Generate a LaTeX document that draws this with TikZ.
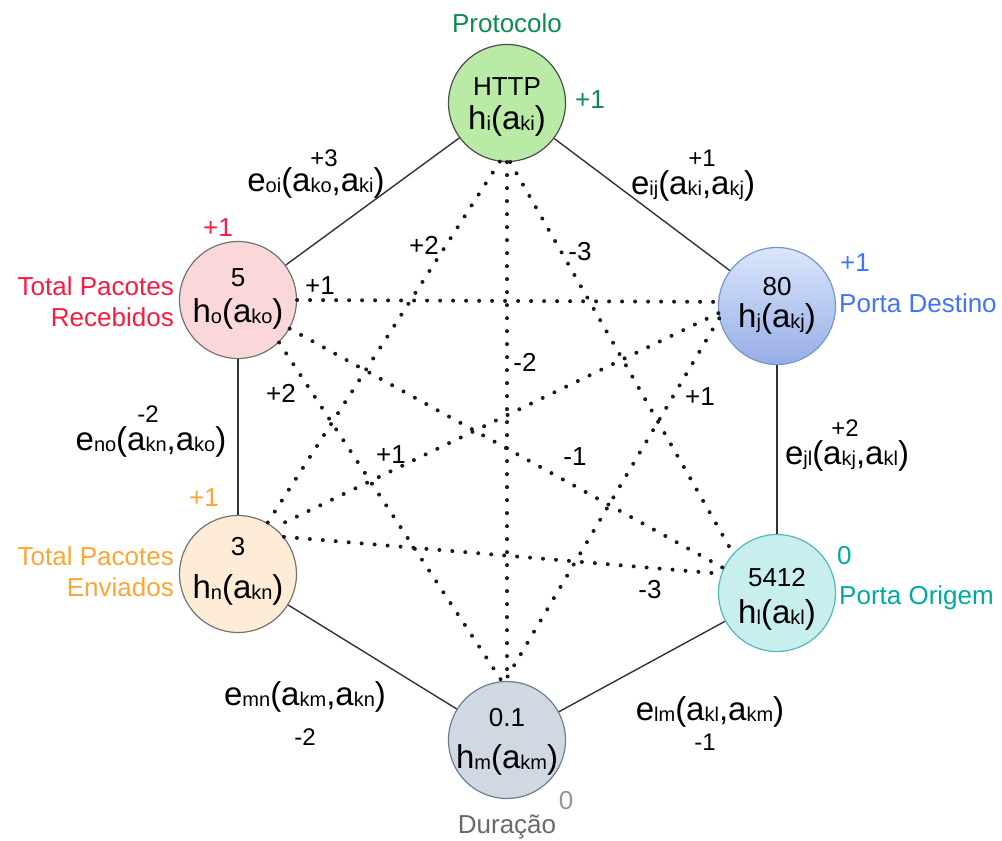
\documentclass[tikz,border=0pt]{standalone}
\usepackage{fontspec}
\setmainfont{Liberation Sans}
\definecolor{tgreen}{RGB}{10,140,80}
\definecolor{tred}{RGB}{255,25,60}
\definecolor{tblue}{RGB}{65,115,255}
\definecolor{torange}{RGB}{255,165,50}
\definecolor{tteal}{RGB}{0,170,160}
\definecolor{tgray}{RGB}{105,105,105}
\definecolor{tlgray}{RGB}{150,150,150}
\definecolor{fgreen}{RGB}{185,235,166}
\definecolor{fpink}{RGB}{250,216,218}
\definecolor{fblueT}{RGB}{218,230,251}
\definecolor{fblueB}{RGB}{150,174,230}
\definecolor{forange}{RGB}{255,236,214}
\definecolor{fteal}{RGB}{200,238,238}
\definecolor{fgray}{RGB}{208,216,226}
\definecolor{sblue}{RGB}{120,150,200}
\definecolor{steal}{RGB}{80,185,185}
\definecolor{sgray}{RGB}{110,125,145}
\newcommand\sbs[1]{\raisebox{-1pt}{\fontsize{20}{20}\selectfont #1}}
\tikzset{
  circ/.style={circle, minimum size=117pt, inner sep=0pt, line width=1.2pt},
  val/.style={font=\fontsize{26}{26}\selectfont, inner sep=0pt},
  hl/.style={font=\fontsize{33}{33}\selectfont, inner sep=0pt},
  elab/.style={font=\fontsize{33}{33}\selectfont, inner sep=0pt},
  num/.style={font=\fontsize{24}{24}\selectfont, inner sep=0pt},
  dnum/.style={font=\fontsize{26}{26}\selectfont, inner sep=0pt},
  side/.style={font=\fontsize{26}{31}\selectfont, inner sep=0pt},
  sedge/.style={draw=black!80, line width=1.4pt},
  dots/.style={draw=black!90, line width=4pt, line cap=round, dash pattern=on 0pt off 13pt}
}
\begin{document}
\begin{tikzpicture}[x=1pt,y=-1pt]
\useasboundingbox (0,0) rectangle (1002,841);
% circles
\node[circ, draw=black!70, fill=fgreen] (i) at (507,103) {};
\node[circ, draw=black!55, fill=fpink] (o) at (238,300) {};
\node[circ, draw=sblue, top color=fblueT, bottom color=fblueB] (j) at (777,306) {};
\node[circ, draw=black!55, fill=forange] (n) at (238,574) {};
\node[circ, draw=steal, fill=fteal] (l) at (777,593) {};
\node[circ, draw=sgray, fill=fgray] (m) at (507,740) {};
% solid edges
\draw[sedge] (o) -- (i);
\draw[sedge] (i) -- (j);
\draw[sedge] (j) -- (l);
\draw[sedge] (l) -- (m);
\draw[sedge] (m) -- (n);
\draw[sedge] (n) -- (o);
% dotted edges
\draw[dots] (i.south) -- (m.north);
\draw[dots] (o.east) -- (j.176);
\draw[dots] (i.263) -- (n.60);
\draw[dots] (i.273) -- (l.138);
\draw[dots] (o.331) -- (l.155);
\draw[dots] (n.39) -- (l.161);
\draw[dots] (j.187) -- (n.52);
\draw[dots] (j.192) -- (m.92);
\draw[dots] (o.314) -- (m.95);
% node texts
\node[val] (iv) at (507,87) {HTTP};
\node[hl] (ih) at (507,121) {h\sbs{i}(a\sbs{ki})};
\node[val] (ov) at (238,278) {5};
\node[hl] (oh) at (238,314) {h\sbs{o}(a\sbs{ko})};
\node[val] (jv) at (777,287) {80};
\node[hl] (jh) at (777,319) {h\sbs{j}(a\sbs{kj})};
\node[val] (nv) at (238,547) {3};
\node[hl] (nh) at (238,590) {h\sbs{n}(a\sbs{kn})};
\node[val] (lv) at (777,578) {5412};
\node[hl] (lh) at (777,615) {h\sbs{l}(a\sbs{kl})};
\node[val] (mv) at (507,718) {0.1};
\node[hl] (mh) at (507,760) {h\sbs{m}(a\sbs{km})};
% outside labels
\node[side, text=tgreen] (ilab) at (507,23) {Protocolo};
\node[dnum, text=tgreen] (iw) at (590,100) {+1};
\node[dnum, text=tred] (ow) at (218,228) {+1};
\node[side, text=tred, align=right, anchor=east] (olab) at (174,302) {Total Pacotes\\Recebidos};
\node[dnum, text=tblue, anchor=west] (jw) at (840,263) {+1};
\node[side, text=tblue, anchor=west] (jlab) at (839,303) {Porta Destino};
\node[dnum, text=torange] (nw) at (204,498) {+1};
\node[side, text=torange, align=right, anchor=east] (nlab) at (174,572) {Total Pacotes\\Enviados};
\node[dnum, text=tteal, anchor=west] (lw) at (837,556) {0};
\node[side, text=tteal, anchor=west] (llab) at (839,598) {Porta Origem};
\node[dnum, text=tlgray] (mw) at (566,801) {0};
\node[side, text=tgray] (mlab) at (507,827) {Duração};
% solid edge labels
\node[num] (oiw) at (324,158) {+3};
\node[elab] (oie) at (316,183) {e\sbs{oi}(a\sbs{ko},a\sbs{ki})};
\node[num] (ijw) at (702,158) {+1};
\node[elab] (ije) at (693,186) {e\sbs{ij}(a\sbs{ki},a\sbs{kj})};
\node[num] (now) at (148,414) {-2};
\node[elab] (noe) at (151,442) {e\sbs{no}(a\sbs{kn},a\sbs{ko})};
\node[num] (jlw) at (845,428) {+2};
\node[elab] (jle) at (847,456) {e\sbs{jl}(a\sbs{kj},a\sbs{kl})};
\node[elab] (mne) at (305,697) {e\sbs{mn}(a\sbs{km},a\sbs{kn})};
\node[num] (mnw) at (305,737) {-2};
\node[elab] (lme) at (710,712) {e\sbs{lm}(a\sbs{kl},a\sbs{km})};
\node[num] (lmw) at (705,742) {-1};
% dotted edge labels
\node[dnum] (d1) at (424,245) {+2};
\node[dnum] (d2) at (580,252) {-3};
\node[dnum] (d3) at (320,286) {+1};
\node[dnum] (d4) at (525,362) {-2};
\node[dnum] (d5) at (281,393) {+2};
\node[dnum] (d6) at (700,397) {+1};
\node[dnum] (d7) at (391,455) {+1};
\node[dnum] (d8) at (575,457) {-1};
\node[dnum] (d9) at (650,590) {-3};
\end{tikzpicture}
\end{document}
